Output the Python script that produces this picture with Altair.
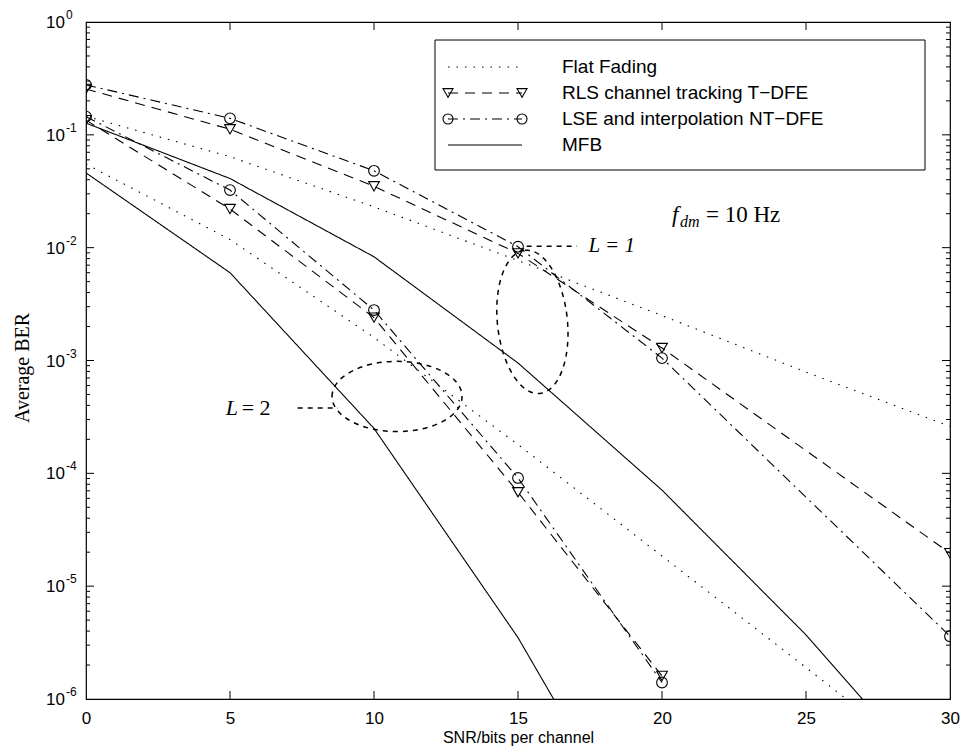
import altair as alt
import pandas as pd

# ---------------- data ----------------
snr_l1_sim = [0, 5, 10, 15, 20, 30]
rls_l1 = [0.255, 0.112, 0.035, 0.0089, 0.00129, 1.96e-5]
lse_l1 = [0.277, 0.140, 0.048, 0.0102, 0.00105, 3.6e-6]

snr_l2_sim = [0, 5, 10, 15, 20]
rls_l2 = [0.135, 0.022, 0.0024, 6.8e-5, 1.6e-6]
lse_l2 = [0.145, 0.0324, 0.0028, 9.1e-5, 1.4e-6]

snr_ref = [0, 5, 10, 15, 20, 25, 30]
flat_l1 = [0.146, 0.064, 0.023, 0.0077, 0.0025, 7.9e-4, 2.6e-4]
flat_l2 = [0.055, 0.0118, 0.0016, 1.8e-4, 1.85e-5, 1.9e-6, 1.9e-7]
mfb_l1 = [0.127, 0.041, 0.0083, 9.5e-4, 7.1e-5, 3.7e-6, 1.3e-7]

snr_mfb_l2 = [0, 5, 10, 15, 20]
mfb_l2 = [0.046, 0.006, 2.5e-4, 3.5e-6, 2.2e-8]

x_ticks = [0, 5, 10, 15, 20, 25, 30]
y_exps = [0, -1, -2, -3, -4, -5, -6]
legend_labels = ["Flat Fading", "RLS channel tracking T\u2212DFE",
                 "LSE and interpolation NT\u2212DFE", "MFB"]

# annotation anchors (data coordinates)
ell1_snr, ell1_ber = [15.5], [0.0022]
ell2_snr, ell2_ber = [10.8], [4.8e-4]
lead1_snr, lead1_snr2, lead1_ber = [15.3], [17.05], [0.0103]
lead2_snr, lead2_snr2, lead2_ber = [7.35], [8.75], [3.8e-4]
lab1_snr, lab1_ber = [17.45], [0.0103]
lab2_snr, lab2_ber = [4.85], [3.8e-4]

# ---------------- build tables ----------------
records = []
for name, xs, ys in [("flat1", snr_ref, flat_l1), ("flat2", snr_ref, flat_l2),
                     ("rls1", snr_l1_sim, rls_l1), ("rls2", snr_l2_sim, rls_l2),
                     ("lse1", snr_l1_sim, lse_l1), ("lse2", snr_l2_sim, lse_l2),
                     ("mfb1", snr_ref, mfb_l1), ("mfb2", snr_mfb_l2, mfb_l2)]:
    for a, b in zip(xs, ys):
        records.append({"series": name, "snr": a, "ber": b})
df = pd.DataFrame(records)

SANS = "Liberation Sans"
SERIF = "Liberation Serif"
W, H = 864, 677

x_scale = alt.Scale(domain=[0, 30], nice=False, zero=False)
y_scale = alt.Scale(type="log", domain=[1e-6, 1], nice=False)
xaxis = alt.Axis(values=x_ticks, ticks=False, domain=False, grid=False,
                 labelFont=SANS, labelFontSize=17, labelColor="black",
                 labelPadding=11, labelFlush=False,
                 title="SNR/bits per channel", titleFont=SANS, titleFontSize=16,
                 titleFontWeight="normal", titleColor="black", titlePadding=3)
yaxis = alt.Axis(labels=False, ticks=False, domain=False, grid=False, title=None)


def X(f="snr"):
    return alt.X(f"{f}:Q", scale=x_scale, axis=xaxis)


def Y(f="ber"):
    return alt.Y(f"{f}:Q", scale=y_scale, axis=yaxis)


DOT = [1.5, 7]
DASH = [10, 7]
DASHDOT = [10, 5, 2, 5]
SOLID = [1, 0]
LW = 1.1


def lines(names, dash):
    return alt.Chart(df).transform_filter(
        alt.FieldOneOfPredicate(field="series", oneOf=names)
    ).mark_line(clip=True, color="black", strokeWidth=LW, strokeDash=dash).encode(
        x=X(), y=Y(), detail="series:N")


def markers(names, shape):
    return alt.Chart(df).transform_filter(
        alt.FieldOneOfPredicate(field="series", oneOf=names)
    ).mark_point(clip=True, shape=shape, filled=False, color="black",
                 strokeWidth=LW, size=115, opacity=1).encode(x=X(), y=Y())


layers = [
    lines(["flat1", "flat2"], DOT),
    lines(["rls1", "rls2"], DASH),
    lines(["lse1", "lse2"], DASHDOT),
    lines(["mfb1", "mfb2"], SOLID),
    markers(["rls1", "rls2"], "triangle-down"),
    markers(["lse1", "lse2"], "circle"),
]

# ---------------- annotations ----------------
ANN_DASH = [5, 5]
e1 = pd.DataFrame({"snr": ell1_snr, "ber": ell1_ber})
e2 = pd.DataFrame({"snr": ell2_snr, "ber": ell2_ber})
layers.append(alt.Chart(e1).mark_point(
    shape="M 0 -1 A 0.486 1 0 1 1 0 1 A 0.486 1 0 1 1 0 -1 Z",
    filled=False, color="black", strokeWidth=1.5, strokeDash=ANN_DASH,
    size=20736, angle=354, opacity=1).encode(x=X(), y=Y()))
layers.append(alt.Chart(e2).mark_point(
    shape="M -1 0 A 1 0.54 0 1 1 1 0 A 1 0.54 0 1 1 -1 0 Z",
    filled=False, color="black", strokeWidth=1.5, strokeDash=ANN_DASH,
    size=16900, opacity=1).encode(x=X(), y=Y()))

l1 = pd.DataFrame({"snr": lead1_snr, "snr2": lead1_snr2, "ber": lead1_ber})
l2 = pd.DataFrame({"snr": lead2_snr, "snr2": lead2_snr2, "ber": lead2_ber})
for d in (l1, l2):
    layers.append(alt.Chart(d).mark_rule(color="black", strokeWidth=1.5,
                                         strokeDash=ANN_DASH).encode(
        x=X(), x2="snr2:Q", y=Y()))

t1 = pd.DataFrame({"snr": lab1_snr, "ber": lab1_ber})
t2 = pd.DataFrame({"snr": lab2_snr, "ber": lab2_ber})
layers.append(alt.Chart(t1).mark_text(align="left", baseline="middle", font=SERIF,
                                      fontSize=21, fontStyle="italic", color="black").encode(
    x=X(), y=Y(), text=alt.value("L = 1")))
layers.append(alt.Chart(t2).mark_text(align="left", baseline="middle", font=SERIF,
                                      fontSize=22, fontStyle="italic", color="black").encode(
    x=X(), y=Y(), text=alt.value("L")))
layers.append(alt.Chart(t2).mark_text(align="left", baseline="middle", font=SERIF,
                                      fontSize=22, dx=16, color="black").encode(
    x=X(), y=Y(), text=alt.value("= 2")))

one = pd.DataFrame({"k": [0]})
# f_dm = 10 Hz
layers.append(alt.Chart(one).mark_text(align="left", baseline="middle", font=SERIF,
                                       fontSize=23, fontStyle="italic", color="black").encode(
    x=alt.value(586), y=alt.value(193), text=alt.value("f")))
layers.append(alt.Chart(one).mark_text(align="left", baseline="middle", font=SERIF,
                                       fontSize=16, fontStyle="italic", color="black").encode(
    x=alt.value(594), y=alt.value(200), text=alt.value("dm")))
layers.append(alt.Chart(one).mark_text(align="left", baseline="middle", font=SERIF,
                                       fontSize=23, color="black").encode(
    x=alt.value(620), y=alt.value(193), text=alt.value("= 10 Hz")))

# ---------------- legend (manual, Matlab style) ----------------
LX0, LX1, LY0, LY1 = 349, 839, 18, 148
rows_y = [45, 71, 97, 123]
SX0, SX1, TX = 362, 436, 476
layers.append(alt.Chart(one).mark_rect(fill="white", stroke="black", strokeWidth=1).encode(
    x=alt.value(LX0), x2=alt.value(LX1), y=alt.value(LY0), y2=alt.value(LY1)))
for ry, dash in zip(rows_y, [DOT, DASH, DASHDOT, SOLID]):
    layers.append(alt.Chart(one).mark_rule(color="black", strokeWidth=LW, strokeDash=dash).encode(
        x=alt.value(SX0), x2=alt.value(SX1), y=alt.value(ry)))
for ry, shape in [(rows_y[1], "triangle-down"), (rows_y[2], "circle")]:
    for sx in (SX0, SX1):
        layers.append(alt.Chart(one).mark_point(shape=shape, filled=False, color="black",
                                                strokeWidth=LW, size=100, opacity=1).encode(
            x=alt.value(sx), y=alt.value(ry)))
for ry, lab in zip(rows_y, legend_labels):
    layers.append(alt.Chart(one).mark_text(align="left", baseline="middle", font=SANS,
                                           fontSize=19, color="black").encode(
        x=alt.value(TX), y=alt.value(ry), text=alt.value(lab)))

# ---------------- inward ticks (Matlab style) ----------------
major_y = pd.DataFrame({"ber": [10.0 ** e for e in y_exps if -6 < e < 0]})
minor_y = pd.DataFrame({"ber": [m * 10.0 ** e for e in y_exps if e < 0 for m in range(2, 10)]})
xt = pd.DataFrame({"snr": [v for v in x_ticks if 0 < v < 30]})
for d, ln in [(major_y, 8), (minor_y, 4)]:
    layers.append(alt.Chart(d).mark_rule(color="black", strokeWidth=1).encode(
        y=Y(), x=alt.value(0), x2=alt.value(ln)))
    layers.append(alt.Chart(d).mark_rule(color="black", strokeWidth=1).encode(
        y=Y(), x=alt.value(W), x2=alt.value(W - ln)))
layers.append(alt.Chart(xt).mark_rule(color="black", strokeWidth=1).encode(
    x=X(), y=alt.value(H), y2=alt.value(H - 8)))
layers.append(alt.Chart(xt).mark_rule(color="black", strokeWidth=1).encode(
    x=X(), y=alt.value(0), y2=alt.value(8)))

# ---------------- y tick labels 10^k ----------------
yl = pd.DataFrame({"ber": [10.0 ** e for e in y_exps],
                   "exp": [str(e) for e in y_exps]})
layers.append(alt.Chart(yl).mark_text(align="right", baseline="middle", font=SANS,
                                      fontSize=17, dy=1, color="black").encode(
    y=Y(), x=alt.value(-21), text=alt.value("10")))
layers.append(alt.Chart(yl).mark_text(align="left", baseline="middle", font=SANS,
                                      fontSize=12, dy=-7, color="black").encode(
    y=Y(), x=alt.value(-20), text="exp:N"))

# y title
layers.append(alt.Chart(one).mark_text(angle=270, align="center", baseline="middle",
                                       font=SERIF, fontSize=20, color="black").encode(
    x=alt.value(-63), y=alt.value(346), text=alt.value("Average BER")))

chart = alt.layer(*layers).properties(
    width=W, height=H,
    autosize=alt.AutoSizeParams(type="none"),
    padding={"left": 86, "top": 22, "right": 12, "bottom": 50},
    background="white",
).configure_view(stroke="black", strokeWidth=1.2)

chart.save("out.html", embed_options={"renderer": "svg", "actions": False})
